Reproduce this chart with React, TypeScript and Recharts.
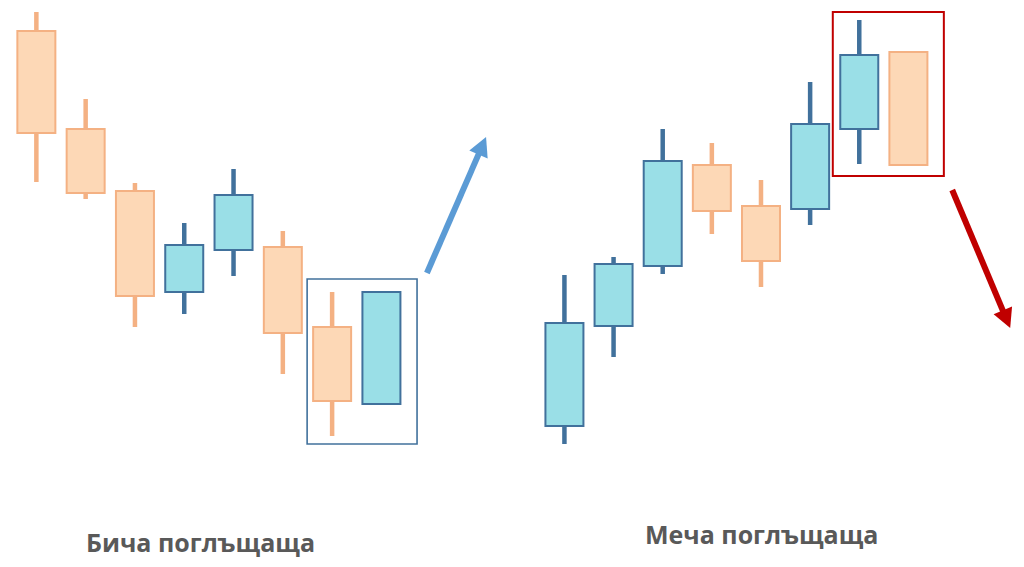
import React from "react";
import { ComposedChart, Bar, XAxis, YAxis, ReferenceArea, ReferenceLine } from "recharts";

// Bullish engulfing pattern (left group)
const bullIdx = [0, 1, 2, 3, 4, 5, 6, 7];
const bullOpen = [93.8, 74.2, 61.8, 41.6, 50.0, 50.6, 34.6, 19.2];
const bullClose = [73.4, 61.4, 40.8, 51.0, 61.0, 33.4, 19.8, 41.6];
const bullHigh = [97.6, 80.2, 63.4, 55.4, 66.2, 53.8, 41.6, 41.6];
const bullLow = [63.6, 60.2, 34.6, 37.2, 44.8, 25.2, 12.8, 19.2];

// Bearish engulfing pattern (right group)
const bearIdx = [0, 1, 2, 3, 4, 5, 6, 7];
const bearOpen = [14.8, 34.8, 46.8, 67.0, 58.8, 58.2, 74.2, 89.6];
const bearClose = [35.4, 47.2, 67.8, 57.8, 47.8, 75.2, 89.0, 67.0];
const bearHigh = [45.0, 48.6, 74.2, 71.4, 64.0, 83.6, 96.0, 89.6];
const bearLow = [11.2, 28.6, 45.2, 53.2, 42.6, 55.0, 67.2, 67.0];

const labels = ["Бича поглъщаща", "Меча поглъщаща"];

const Y_DOMAIN: [number, number] = [-13.4, 100];
const SLOT_TICKS = [0, 1, 2, 3, 4, 5, 6, 7, 8, 9];

const build = (idx: number[], o: number[], c: number[], h: number[], l: number[]) =>
  idx.map((i, k) => ({ i, open: o[k], close: c[k], high: h[k], low: l[k] }));

const bullData = build(bullIdx, bullOpen, bullClose, bullHigh, bullLow);
const bearData = build(bearIdx, bearOpen, bearClose, bearHigh, bearLow);

const UP_FILL = "#9ADFE7";
const UP_STROKE = "#41719C";
const DOWN_FILL = "#FDD8B6";
const DOWN_STROKE = "#F4B183";

const Candle = (props: any) => {
  const { x, y, width, height, payload } = props;
  if (x == null || y == null) return null;
  const { open, close, high, low } = payload;
  const top = Math.min(y, y + height);
  const h = Math.abs(height);
  const py = (v: number) => (high === low ? top : top + ((high - v) / (high - low)) * h);
  const up = close >= open;
  const bodyTop = py(Math.max(open, close));
  const bodyBot = py(Math.min(open, close));
  const cx = x + width / 2;
  const stroke = up ? UP_STROKE : DOWN_STROKE;
  return (
    <g>
      <line x1={cx} x2={cx} y1={py(high)} y2={py(low)} stroke={stroke} strokeWidth={4.5} />
      <rect
        x={x}
        y={bodyTop}
        width={width}
        height={Math.max(1, bodyBot - bodyTop)}
        fill={up ? UP_FILL : DOWN_FILL}
        stroke={stroke}
        strokeWidth={2}
      />
    </g>
  );
};

const makeArrow = (color: string) => (props: any) => {
  const { x1, y1, x2, y2 } = props;
  if ([x1, y1, x2, y2].some((v) => v == null || isNaN(v))) return null;
  const dx = x2 - x1;
  const dy = y2 - y1;
  const len = Math.sqrt(dx * dx + dy * dy);
  const ux = dx / len;
  const uy = dy / len;
  const head = 19;
  const half = 10;
  const bx = x2 - ux * head;
  const by = y2 - uy * head;
  const pts = [
    [x2, y2],
    [bx - uy * half, by + ux * half],
    [bx + uy * half, by - ux * half],
  ]
    .map((p) => p.join(","))
    .join(" ");
  return (
    <g>
      <line x1={x1} y1={y1} x2={bx + ux * 2} y2={by + uy * 2} stroke={color} strokeWidth={6} />
      <polygon points={pts} fill={color} />
    </g>
  );
};

const BlueArrow = makeArrow("#5B9BD5");
const RedArrow = makeArrow("#C00000");

export default function App() {
  return (
    <div style={{ position: "absolute", left: 0, top: 0, width: 1024, height: 567, background: "#fff" }}>
      <div style={{ position: "absolute", left: 0, top: 0 }}>
        <ComposedChart width={505} height={567} data={bullData} margin={{ top: 0, right: 0.7, bottom: 0, left: 11.36 }}>
          <XAxis dataKey="i" type="number" domain={[-0.5, 9.5]} ticks={SLOT_TICKS} hide />
          <YAxis type="number" domain={Y_DOMAIN} allowDataOverflow hide />
          <Bar dataKey={(d: any) => [d.low, d.high]} barSize={38} shape={<Candle />} isAnimationActive={false} />
          <ReferenceArea x1={5.5} x2={7.73} y1={11.2} y2={44.2} fill="none" stroke="#41719C" strokeWidth={1.6} ifOverflow="visible" />
          <ReferenceLine segment={[{ x: 7.93, y: 45.4 }, { x: 9.13, y: 72.6 }]} shape={BlueArrow} ifOverflow="visible" />
        </ComposedChart>
      </div>
      <div style={{ position: "absolute", left: 520, top: 0 }}>
        <ComposedChart width={504} height={567} data={bearData} margin={{ top: 0, right: 3, bottom: 0, left: 19.43 }}>
          <XAxis dataKey="i" type="number" domain={[-0.5, 9.3]} ticks={SLOT_TICKS} hide allowDataOverflow />
          <YAxis type="number" domain={Y_DOMAIN} allowDataOverflow hide />
          <Bar dataKey={(d: any) => [d.low, d.high]} barSize={38} shape={<Candle />} isAnimationActive={false} />
          <ReferenceArea x1={5.47} x2={7.73} y1={64.8} y2={97.6} fill="none" stroke="#C00000" strokeWidth={2} ifOverflow="visible" />
          <ReferenceLine segment={[{ x: 7.9, y: 62.0 }, { x: 9.08, y: 34.4 }]} shape={RedArrow} ifOverflow="visible" />
        </ComposedChart>
      </div>
      <svg width={1024} height={567} style={{ position: "absolute", left: 0, top: 0, pointerEvents: "none" }}>
        <text x={86} y={552} fontFamily="'Open Sans', sans-serif" fontWeight={700} fontSize={25} fill="#595959">
          {labels[0]}
        </text>
        <text x={645} y={544} fontFamily="'Open Sans', sans-serif" fontWeight={700} fontSize={25} fill="#595959">
          {labels[1]}
        </text>
      </svg>
    </div>
  );
}
